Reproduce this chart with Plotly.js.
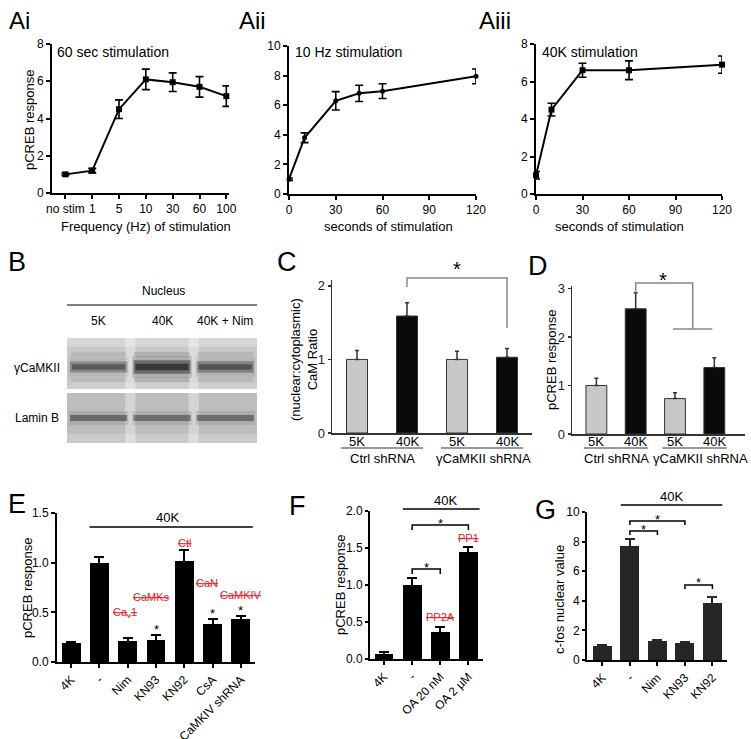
<!DOCTYPE html>
<html><head><meta charset="utf-8">
<script src="https://cdn.plot.ly/plotly-3.0.1.min.js"></script>
<style>html,body{margin:0;padding:0;background:#fff}#chart{width:751px;height:739px}</style>
</head><body><div id="chart"></div>
<script>
// ---------------- data ----------------
const aiCategories = ['no stim', '1', '5', '10', '30', '60', '100'];
const aiValues = [1.0, 1.2, 4.5, 6.1, 5.95, 5.7, 5.2];
const aiErrors = [0.06, 0.12, 0.5, 0.55, 0.5, 0.55, 0.55];

const aiiSeconds = [0, 10, 30, 45, 60, 120];
const aiiValues = [1.0, 3.8, 6.3, 6.8, 6.95, 7.95];
const aiiErrors = [0.08, 0.33, 0.62, 0.55, 0.5, 0.5];

const aiiiSeconds = [0, 10, 30, 60, 120];
const aiiiValues = [1.0, 4.5, 6.6, 6.6, 6.9];
const aiiiErrors = [0.2, 0.34, 0.37, 0.5, 0.46];

const secondTicks = [0, 30, 60, 90, 120];

const blotLanes = ['5K', '40K', '40K + Nim'];
const blotRows = ['γCaMKII', 'Lamin B'];
const camkiiBand = [0.62, 0.92, 0.66];
const laminBand = [0.72, 0.68, 0.68];

const cdLabels = ['5K', '40K', '5K', '40K'];
const cdGroups = ['Ctrl shRNA', 'γCaMKII shRNA'];
const cValues = [1.0, 1.59, 1.0, 1.03];
const cErrors = [0.12, 0.18, 0.11, 0.12];
const dValues = [1.0, 2.58, 0.73, 1.37];
const dErrors = [0.15, 0.33, 0.12, 0.2];

const eLabels = ['4K', '-', 'Nim', 'KN93', 'KN92', 'CsA', 'CaMKIV shRNA'];
const eValues = [0.19, 1.0, 0.21, 0.22, 1.02, 0.38, 0.43];
const eErrors = [0.01, 0.06, 0.03, 0.05, 0.11, 0.05, 0.03];
const eTargets = [null, null, 'Ca<sub>v</sub>1', 'CaMKs', 'Ctl', 'CaN', 'CaMKIV'];

const fLabels = ['4K', '-', 'OA 20 nM', 'OA 2 µM'];
const fValues = [0.07, 1.0, 0.37, 1.44];
const fErrors = [0.02, 0.1, 0.06, 0.07];
const fTargets = [null, null, 'PP2A', 'PP1'];

const gLabels = ['4K', '-', 'Nim', 'KN93', 'KN92'];
const gValues = [0.98, 7.7, 1.27, 1.12, 3.83];
const gErrors = [0.06, 0.5, 0.08, 0.08, 0.45];

// ---------------- helpers ----------------
const W = 751, H = 739;
const FONT = 'Liberation Sans, Arial, sans-serif';
const px = (a, b) => [a / W, b / W];
const py = (top, bottom) => [1 - bottom / H, 1 - top / H];
const Y = p => 1 - p / H;
const X = p => p / W;
const idx = arr => arr.map((_, i) => i);

const axBase = {
  showgrid: false, zeroline: false, showline: true, linecolor: '#000', linewidth: 2,
  ticks: 'outside', ticklen: 4, tickwidth: 2, tickcolor: '#000',
  tickfont: {family: FONT, size: 12, color: '#000'}, fixedrange: true
};
const ax = o => Object.assign({}, axBase, o);

// ---------------- traces ----------------
const lineStyle = {color: '#000', width: 2};
const errA = arr => ({type: 'data', array: arr, visible: true, color: '#000', thickness: 1.6, width: 4});

const traces = [
  {type: 'scatter', mode: 'lines+markers', x: idx(aiCategories), y: aiValues, xaxis: 'x', yaxis: 'y',
   line: lineStyle, marker: {symbol: 'square', size: 6, color: '#000'}, error_y: errA(aiErrors), cliponaxis: false},
  {type: 'scatter', mode: 'lines+markers', x: aiiSeconds, y: aiiValues, xaxis: 'x2', yaxis: 'y2',
   line: lineStyle, marker: {symbol: 'circle', size: 5, color: '#000'}, error_y: errA(aiiErrors), cliponaxis: false},
  {type: 'scatter', mode: 'lines+markers', x: aiiiSeconds, y: aiiiValues, xaxis: 'x3', yaxis: 'y3',
   line: lineStyle, marker: {symbol: 'square', size: 6, color: '#000'}, error_y: errA(aiiiErrors), cliponaxis: false},
  {type: 'bar', x: idx(cdLabels), y: cValues, xaxis: 'x5', yaxis: 'y5', width: 0.42,
   marker: {color: ['#c8c8c8', '#0a0a0a', '#c8c8c8', '#0a0a0a'], line: {color: '#333', width: 1}},
   error_y: {type: 'data', symmetric: false, array: cErrors, arrayminus: cErrors.map(() => 0), color: '#333', thickness: 1.5, width: 2}},
  {type: 'bar', x: idx(cdLabels), y: dValues, xaxis: 'x6', yaxis: 'y6', width: 0.53,
   marker: {color: ['#c8c8c8', '#0a0a0a', '#c8c8c8', '#0a0a0a'], line: {color: '#333', width: 1}},
   error_y: {type: 'data', symmetric: false, array: dErrors, arrayminus: dErrors.map(() => 0), color: '#333', thickness: 1.5, width: 2}},
  {type: 'bar', x: idx(eLabels), y: eValues, xaxis: 'x7', yaxis: 'y7', width: 0.67,
   marker: {color: '#000'}, error_y: {type: 'data', array: eErrors, color: '#000', thickness: 2, width: 5}},
  {type: 'bar', x: idx(fLabels), y: fValues, xaxis: 'x8', yaxis: 'y8', width: 0.67,
   marker: {color: '#000'}, error_y: {type: 'data', array: fErrors, color: '#000', thickness: 2, width: 5}},
  {type: 'bar', x: idx(gLabels), y: gValues, xaxis: 'x9', yaxis: 'y9', width: 0.69,
   marker: {color: '#262626'}, error_y: {type: 'data', array: gErrors, color: '#262626', thickness: 2, width: 5}}
];

// ---------------- annotations ----------------
const ann = [];
const f = (size, color) => ({family: FONT, size: size, color: color || '#000'});
const txt = (x, y, text, o) => ann.push(Object.assign({
  xref: 'paper', yref: 'paper', x: X(x), y: Y(y), text: text, showarrow: false,
  font: f(13), xanchor: 'center', yanchor: 'middle'
}, o || {}));
const dtxt = (xa, x, y, text, o) => ann.push(Object.assign({
  xref: xa, yref: 'paper', x: x, y: Y(y), text: text, showarrow: false,
  font: f(13), xanchor: 'center', yanchor: 'middle'
}, o || {}));

// panel letters
txt(7, 20, 'Ai', {xanchor: 'left', font: f(24)});
txt(237, 20, 'Aii', {xanchor: 'left', font: f(24)});
txt(477, 20, 'Aiii', {xanchor: 'left', font: f(24)});
txt(6, 262, 'B', {xanchor: 'left', font: f(27)});
txt(275, 262, 'C', {xanchor: 'left', font: f(27)});
txt(526, 266, 'D', {xanchor: 'left', font: f(27)});
txt(6, 504, 'E', {xanchor: 'left', font: f(27)});
txt(287, 506, 'F', {xanchor: 'left', font: f(27)});
txt(533, 510, 'G', {xanchor: 'left', font: f(27)});

// A panel texts
txt(55, 52, '60 sec stimulation', {xanchor: 'left', font: f(14)});
txt(293, 52, '10 Hz stimulation', {xanchor: 'left', font: f(14)});
txt(540, 52, '40K stimulation', {xanchor: 'left', font: f(14)});
txt(146, 226, 'Frequency (Hz) of stimulation');
txt(388, 226, 'seconds of stimulation');
txt(619, 226, 'seconds of stimulation');
txt(29, 120, 'pCREB response', {textangle: -90});

// B blot labels
txt(163, 291, 'Nucleus', {font: f(12)});
blotLanes.forEach((l, i) => dtxt('x4', i + 0.5, 321, l, {font: f(12)}));
txt(62, 368, blotRows[0], {xanchor: 'right', font: f(12)});
txt(61, 418, blotRows[1], {xanchor: 'right', font: f(12)});

// C / D
txt(304, 360, '(nuclear:cytoplasmic)<br>CaM Ratio', {textangle: -90});
txt(551, 360, 'pCREB response', {textangle: -90});
const groupShift = {x5: [0, 0.02], x6: [0, 0.15]};
['x5', 'x6'].forEach(xa => {
  cdLabels.forEach((l, i) => dtxt(xa, i, 441, l));
  cdGroups.forEach((g, gi) => dtxt(xa, gi * 2 + 0.5 + groupShift[xa][gi], 458, g));
});
dtxt('x5', 2, 269, '*', {font: f(20)});
dtxt('x6', 1.7, 280, '*', {font: f(20)});

// E / F / G
txt(27, 588, 'pCREB response', {textangle: -90});
txt(340, 585, 'pCREB response', {textangle: -90});
txt(559, 600, 'c-fos nuclear value', {textangle: -90});
dtxt('x7', 3.4, 517, '40K');
dtxt('x8', 2.2, 500, '40K');
dtxt('x9', 2.5, 496, '40K');

const red = f(11, '#e3232b');
const eTargetY = [0, 0, 0.49, 0.65, 1.2, 0.8, 0.67];
const eTargetDx = [0, 0, -0.1, -0.15, 0, -0.2, 0];
eTargets.forEach((t, i) => { if (t) ann.push({xref: 'x7', yref: 'y7', x: i + eTargetDx[i], y: eTargetY[i], text: '<s>' + t + '</s>', showarrow: false, font: red}); });
const fTargetY = [0, 0, 0.57, 1.63];
fTargets.forEach((t, i) => { if (t) ann.push({xref: 'x8', yref: 'y8', x: i, y: fTargetY[i], text: '<s>' + t + '</s>', showarrow: false, font: red}); });

[3, 5, 6].forEach(i => ann.push({xref: 'x7', yref: 'y7', x: i, y: eValues[i] + eErrors[i], text: '*', showarrow: false,
  font: f(13), yanchor: 'bottom', yshift: -4}));
dtxt('x8', 2, 523, '*');
dtxt('x8', 1.5, 567, '*');
dtxt('x9', 2, 519, '*');
dtxt('x9', 1.5, 529, '*');
dtxt('x9', 3.5, 582, '*');

// ---------------- shapes ----------------
const shp = [];
const rect = (x0, x1, y0, y1, fill) => shp.push({type: 'rect', xref: 'x4', yref: 'y4', x0, x1, y0, y1,
  fillcolor: fill, line: {width: 0}, layer: 'above'});
rect(0, 3, 0, 51, '#c8c8c8');
rect(0, 3, 55, 105, '#bdbdbd');
rect(0, 3, 0, 9, 'rgba(255,255,255,0.25)');
rect(0, 3, 45, 51, 'rgba(255,255,255,0.12)');
rect(0, 3, 96, 105, 'rgba(255,255,255,0.22)');
[1, 2].forEach(b => {
  rect(b - 0.08, b + 0.08, 0, 51, 'rgba(255,255,255,0.35)');
  rect(b - 0.08, b + 0.08, 55, 105, 'rgba(255,255,255,0.35)');
});
blotLanes.forEach((l, i) => {
  const v = camkiiBand[i];
  const hw = 3 + v * 4;
  rect(i + 0.03, i + 0.97, 29 - hw - 4, 29 + hw + 4, `rgba(50,50,50,${(v * 0.18).toFixed(2)})`);
  rect(i + 0.05, i + 0.95, 29 - hw, 29 + hw, `rgba(30,30,30,${(v * 0.5).toFixed(2)})`);
  rect(i + 0.08, i + 0.92, 29 - hw * 0.5, 29 + hw * 0.5, `rgba(15,15,15,${(v * 0.6).toFixed(2)})`);
  rect(i + 0.06, i + 0.94, 14, 19, `rgba(70,70,70,${(v * 0.2).toFixed(2)})`);
  rect(i + 0.06, i + 0.94, 39, 44, `rgba(70,70,70,${(v * 0.18).toFixed(2)})`);
  const u = laminBand[i];
  rect(i + 0.03, i + 0.97, 73, 87, `rgba(50,50,50,${(u * 0.18).toFixed(2)})`);
  rect(i + 0.05, i + 0.95, 77, 83, `rgba(20,20,20,${(u * 0.6).toFixed(2)})`);
});
shp.push({type: 'line', xref: 'x4', yref: 'paper', x0: 0, x1: 3, y0: Y(305), y1: Y(305), line: {color: '#555', width: 1.5}});

const pathShape = (xa, d, color, width) => shp.push({type: 'path', xref: xa, yref: 'paper', path: d, line: {color, width}});
const P = pts => 'M' + pts.map(p => p[0] + ',' + p[1]).join(' L');
['x5', 'x6'].forEach(xa => {
  cdGroups.forEach((g, gi) => pathShape(xa, P([[gi * 2 - 0.32, Y(448)], [gi * 2 + 1.32, Y(448)]]), '#333', 1));
});
pathShape('x5', P([[1, Y(287)], [1, Y(278)], [3, Y(278)], [3, Y(328)]]), '#888', 1.5);
pathShape('x6', P([[1, Y(293)], [1, Y(283)], [2.45, Y(283)], [2.45, Y(329)]]), '#888', 1.5);
pathShape('x6', P([[1.95, Y(329)], [2.95, Y(329)]]), '#888', 1.5);

pathShape('x7', P([[1 - 0.35, Y(527)], [6 + 0.42, Y(527)]]), '#000', 1.5);
pathShape('x8', P([[1 - 0.33, Y(509)], [3 + 0.4, Y(509)]]), '#000', 1.5);
pathShape('x8', P([[1, Y(530)], [1, Y(525)], [3, Y(525)], [3, Y(530)]]), '#000', 1.5);
pathShape('x8', P([[1, Y(574)], [1, Y(569)], [2, Y(569)], [2, Y(574)]]), '#000', 1.5);
pathShape('x9', P([[1 - 0.33, Y(505)], [4 + 0.36, Y(505)]]), '#000', 1.5);
pathShape('x9', P([[1, Y(525)], [1, Y(521)], [3, Y(521)], [3, Y(525)]]), '#000', 1.5);
pathShape('x9', P([[1, Y(535)], [1, Y(531)], [2, Y(531)], [2, Y(535)]]), '#000', 1.5);
pathShape('x9', P([[3, Y(589)], [3, Y(585)], [4, Y(585)], [4, Y(589)]]), '#000', 1.5);

// ---------------- layout ----------------
const cdX = o => ax(Object.assign({ticks: '', linecolor: '#333', linewidth: 1.5, showticklabels: false}, o));
const cdY = o => ax(Object.assign({linecolor: '#333', linewidth: 1.5, tickcolor: '#333', tickwidth: 1.5, ticklen: 3,
  tickfont: f(13, '#222')}, o));

const layout = {
  width: W, height: H, margin: {l: 0, r: 0, t: 0, b: 0}, showlegend: false,
  paper_bgcolor: '#fff', plot_bgcolor: 'rgba(0,0,0,0)', font: {family: FONT, color: '#000'},
  bargap: 0,
  xaxis: ax({domain: px(52, 229), range: [-0.5, 6.1], tickvals: idx(aiCategories), ticktext: aiCategories, anchor: 'y'}),
  yaxis: ax({domain: py(44, 193), range: [0, 8], dtick: 2, anchor: 'x'}),
  xaxis2: ax({domain: px(289, 476), range: [0, 120], tickvals: secondTicks, anchor: 'y2'}),
  yaxis2: ax({domain: py(46, 194), range: [0, 10], dtick: 2, anchor: 'x2'}),
  xaxis3: ax({domain: px(536, 722), range: [0, 120], tickvals: secondTicks, anchor: 'y3'}),
  yaxis3: ax({domain: py(44, 194), range: [0, 8], dtick: 2, anchor: 'x3'}),
  xaxis4: {domain: px(67, 257), range: [0, 3], visible: false, anchor: 'y4', fixedrange: true},
  yaxis4: {domain: py(338, 443), range: [105, 0], visible: false, anchor: 'x4', fixedrange: true},
  xaxis5: cdX({domain: px(332, 532), range: [-0.5, 3.5], anchor: 'y5'}),
  yaxis5: cdY({domain: py(280, 433), range: [0, 2.08], tickvals: [0, 1, 2], anchor: 'x5'}),
  xaxis6: cdX({domain: px(572, 745), range: [-0.62, 3.78], anchor: 'y6'}),
  yaxis6: cdY({domain: py(286, 434), range: [0, 3.05], tickvals: [0, 1, 2, 3], anchor: 'x6'}),
  xaxis7: ax({domain: px(57, 255), range: [-0.5, 6.5], tickvals: idx(eLabels), ticktext: eLabels, tickangle: -45, anchor: 'y7'}),
  yaxis7: ax({domain: py(513, 662), range: [0, 1.5], tickvals: [0, 0.5, 1, 1.5], tickformat: '.1f', anchor: 'x7'}),
  xaxis8: ax({domain: px(370, 483), range: [-0.5, 3.52], tickvals: idx(fLabels), ticktext: fLabels, tickangle: -45, anchor: 'y8'}),
  yaxis8: ax({domain: py(511, 659), range: [0, 2], dtick: 0.5, tickformat: '.1f', ticklen: 3, anchor: 'x8'}),
  xaxis9: ax({domain: px(587, 727), range: [-0.56, 4.53], tickvals: idx(gLabels), ticktext: gLabels, tickangle: -45, anchor: 'y9'}),
  yaxis9: ax({domain: py(512, 660), range: [0, 10], dtick: 2, ticklen: 3, anchor: 'x9'}),
  annotations: ann,
  shapes: shp
};

Plotly.newPlot('chart', traces, layout, {displayModeBar: false, staticPlot: true});
</script>
</body></html>
